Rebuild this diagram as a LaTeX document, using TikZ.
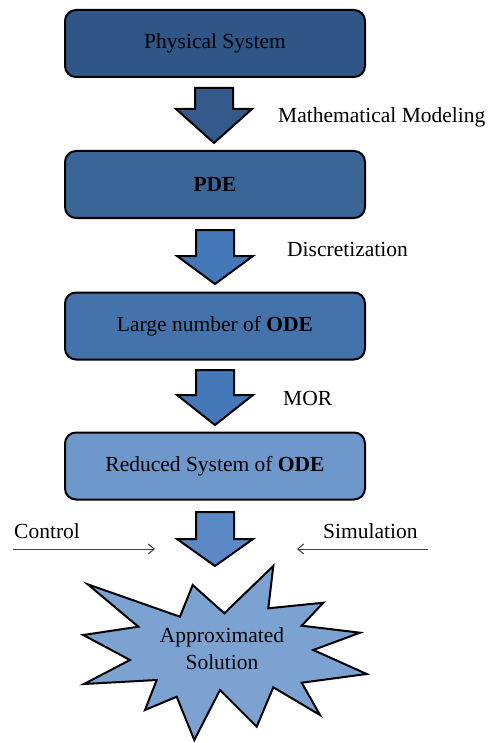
\documentclass[tikz,border=0pt]{standalone}
\usepackage{fontspec}
\setmainfont{Liberation Serif}
\usetikzlibrary{arrows.meta}
\definecolor{cbox1}{HTML}{2F5686}
\definecolor{cbox2}{HTML}{3A6597}
\definecolor{cbox3}{HTML}{4472AB}
\definecolor{cbox4}{HTML}{6E98CB}
\definecolor{cstar}{HTML}{7CA2D2}
\definecolor{carr1}{HTML}{34598B}
\definecolor{carr2}{HTML}{4478B8}
\definecolor{carr4}{HTML}{5B89C6}
\definecolor{cline}{HTML}{404040}
\tikzset{
  stagebox/.style={draw=black, line width=2pt, rounded corners=11pt, minimum width=300pt, minimum height=67pt, text=black, font=\fontsize{21.5}{24}\selectfont},
  blockarrow/.style={draw=black, line width=2pt, line join=miter},
  lbl/.style={text=black, font=\fontsize{21.5}{24}\selectfont, inner sep=0pt},
  sidearrow/.style={draw=cline, line width=1pt, -{Straight Barb[length=6pt,width=10pt]}}
}
\newcommand{\blockarr}[5]{% cx, top, shoulder, tip, colour
  \fill[#5] (#1-19,#2) -- (#1+19,#2) -- (#1+19,#3) -- (#1+38,#3) -- (#1,#4) -- (#1-38,#3) -- (#1-19,#3) -- cycle;
  \draw[blockarrow] (#1-19,#2) -- (#1+19,#2) -- (#1+19,#3) -- (#1+38,#3) -- (#1,#4) -- (#1-38,#3) -- (#1-19,#3) -- cycle;
}
\begin{document}
\begin{tikzpicture}[x=1pt,y=-1pt]
\useasboundingbox (0,0) rectangle (492,743);

\node[stagebox, fill=cbox1] (phys) at (215,43.5) {Physical System};
\node[stagebox, fill=cbox2] (pde) at (215,184.5) {\textbf{PDE}};
\node[stagebox, fill=cbox3] (large) at (215,326) {Large number of \textbf{ODE}};
\node[stagebox, fill=cbox4] (red) at (215,466) {Reduced System of \textbf{ODE}};

\blockarr{214}{88}{109}{143}{carr1}
\blockarr{215}{230}{256}{284}{carr2}
\blockarr{215}{370}{395}{425}{carr2}
\blockarr{215}{512}{539}{566}{carr4}

\node[lbl, anchor=west] (mm) at (278,117) {Mathematical Modeling};
\node[lbl, anchor=west] (disc) at (287,249) {Discretization};
\node[lbl, anchor=west] (mor) at (283,398) {MOR};
\node[lbl, anchor=west] (ctrl) at (14,531) {Control};
\node[lbl, anchor=west] (sim) at (323,531) {Simulation};

\coordinate (c0) at (13,549);
\coordinate (c1) at (155,549);
\coordinate (s0) at (428,549);
\coordinate (s1) at (297,549);
\draw[sidearrow] (c0) -- (c1);
\draw[sidearrow] (s0) -- (s1);

\draw[fill=cstar, line width=2pt, line join=miter, miter limit=20]
  (273.3,566) -- (268.3,608.3) -- (323.3,602.7) -- (301.7,625.7) -- (360,632.7)
  -- (313.3,650) -- (366.7,674) -- (301.7,682.7) -- (320,715) -- (273.3,687.3)
  -- (256.7,726.7) -- (220,690) -- (194.3,740) -- (176.7,696.7) -- (145,710)
  -- (156.7,680) -- (84,684) -- (130,660) -- (83.3,635) -- (138.3,626.7)
  -- (87.7,584.3) -- (180,616.7) -- (192.7,585) -- (224.3,613.3) -- cycle;
\node[lbl, align=center, font=\fontsize{21.5}{27}\selectfont] (sol) at (222,649) {Approximated\\Solution};
\end{tikzpicture}
\end{document}
